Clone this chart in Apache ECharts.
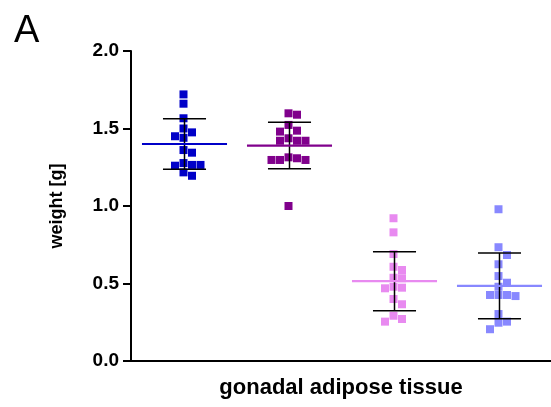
<!DOCTYPE html>
<html>
<head>
<meta charset="utf-8">
<script src="https://cdn.jsdelivr.net/npm/echarts@6/dist/echarts.min.js"></script>
<style>html,body{margin:0;padding:0;background:#fff}#c{width:551px;height:407px}</style>
</head>
<body>
<div id="c"></div>
<script>
// ---- data ----
var groups = ['G1', 'G2', 'G3', 'G4'];
var group1 = [1.72, 1.66, 1.566, 1.50, 1.475, 1.45, 1.44, 1.361, 1.344, 1.277, 1.265, 1.26, 1.265, 1.217, 1.195];
var group2 = [1.598, 1.589, 1.523, 1.486, 1.48, 1.437, 1.421, 1.421, 1.421, 1.314, 1.308, 1.297, 1.297, 1.297, 1.0];
var group3 = [0.921, 0.830, 0.690, 0.608, 0.587, 0.537, 0.534, 0.479, 0.473, 0.469, 0.40, 0.366, 0.292, 0.271, 0.254];
var group4 = [0.979, 0.734, 0.684, 0.624, 0.548, 0.505, 0.479, 0.426, 0.426, 0.426, 0.419, 0.303, 0.254, 0.247, 0.205];
var means = [1.40, 1.39, 0.515, 0.485];
var sds = [0.163, 0.15, 0.19, 0.212];
var yTicks = ['0.0', '0.5', '1.0', '1.5', '2.0'];
var xTitle = 'gonadal adipose tissue';
var yTitle = 'weight [g]';
var panel = 'A';

var colors = ['#0000C8', '#80008C', '#E88AF0', '#8888FF'];
var allGroups = [group1, group2, group3, group4];

var FONT = 'Liberation Sans, Arial, sans-serif';
var gridTop = 51, gridBottom = 46;
var pxPerUnit = (407 - gridTop - gridBottom) / 2;
var sym = 8, slotPx = 8.5;

// simple beeswarm: spread overlapping points into side columns
function swarm(vals) {
  var placed = [];
  var order = [0, 1, -1, 2, -2, 3, -3];
  return vals.map(function (v) {
    for (var k = 0; k < order.length; k++) {
      var s = order[k];
      var clash = placed.some(function (p) { return p.s === s && Math.abs(p.v - v) * pxPerUnit < sym; });
      if (!clash) { placed.push({ s: s, v: v }); return s; }
    }
    return 0;
  });
}

var series = [];
allGroups.forEach(function (vals, gi) {
  var slots = swarm(vals);
  series.push({
    type: 'scatter',
    symbol: 'rect',
    symbolSize: sym,
    itemStyle: { color: colors[gi], opacity: 1 },
    z: 3,
    data: vals.map(function (v, i) {
      return { value: [gi, v], symbolOffset: [slots[i] * slotPx, 0] };
    })
  });
});

series.push({
  type: 'custom',
  z: 5,
  renderItem: function (params, api) {
    var ci = api.value(0), m = api.value(1), sd = api.value(2);
    var band = api.size([1, 0])[0];
    var c = api.coord([ci, m]);
    var hi = api.coord([ci, m + sd]);
    var lo = api.coord([ci, m - sd]);
    var halfMean = band * 0.405, halfCap = band * 0.205;
    var x = Math.round(c[0]) + 0.5;
    return {
      type: 'group',
      children: [
        { type: 'line', shape: { x1: x, y1: hi[1], x2: x, y2: lo[1] }, style: { stroke: '#000', lineWidth: 1.5 } },
        { type: 'line', shape: { x1: x - halfCap, y1: hi[1], x2: x + halfCap, y2: hi[1] }, style: { stroke: '#000', lineWidth: 1.5 } },
        { type: 'line', shape: { x1: x - halfCap, y1: lo[1], x2: x + halfCap, y2: lo[1] }, style: { stroke: '#000', lineWidth: 1.5 } },
        { type: 'line', shape: { x1: x - halfMean, y1: c[1], x2: x + halfMean, y2: c[1] }, style: { stroke: colors[ci], lineWidth: 2.2 } }
      ]
    };
  },
  data: means.map(function (m, i) { return [i, m, sds[i]]; })
});

var chart = echarts.init(document.getElementById('c'), null, { renderer: 'canvas' });
chart.setOption({
  animation: false,
  backgroundColor: '#fff',
  title: {
    text: panel, left: 9, top: 8,
    textStyle: { fontFamily: FONT, fontSize: 38, fontWeight: 'normal', color: '#000' }
  },
  grid: { left: 131, right: 0, top: gridTop, bottom: gridBottom },
  xAxis: {
    type: 'category',
    data: groups,
    boundaryGap: true,
    name: xTitle,
    nameLocation: 'middle',
    nameGap: 16,
    nameTextStyle: { fontFamily: FONT, fontSize: 22, fontWeight: 'bold', color: '#000', verticalAlign: 'top' },
    axisLine: { lineStyle: { color: '#000', width: 2 } },
    axisTick: { show: false },
    axisLabel: { show: false },
    splitLine: { show: false }
  },
  yAxis: {
    type: 'value',
    min: 0, max: 2, interval: 0.5,
    name: yTitle,
    nameLocation: 'middle',
    nameGap: 65,
    nameRotate: 90,
    nameTextStyle: { fontFamily: FONT, fontSize: 18, fontWeight: 'bold', color: '#000' },
    axisLine: { show: true, lineStyle: { color: '#000', width: 2 } },
    axisTick: { show: true, length: 8, lineStyle: { color: '#000', width: 2 } },
    axisLabel: {
      margin: 12,
      fontFamily: FONT, fontSize: 19, fontWeight: 'bold', color: '#000',
      formatter: function (v) { return yTicks[Math.round(v / 0.5)]; }
    },
    splitLine: { show: false }
  },
  series: series
});
</script>
</body>
</html>
